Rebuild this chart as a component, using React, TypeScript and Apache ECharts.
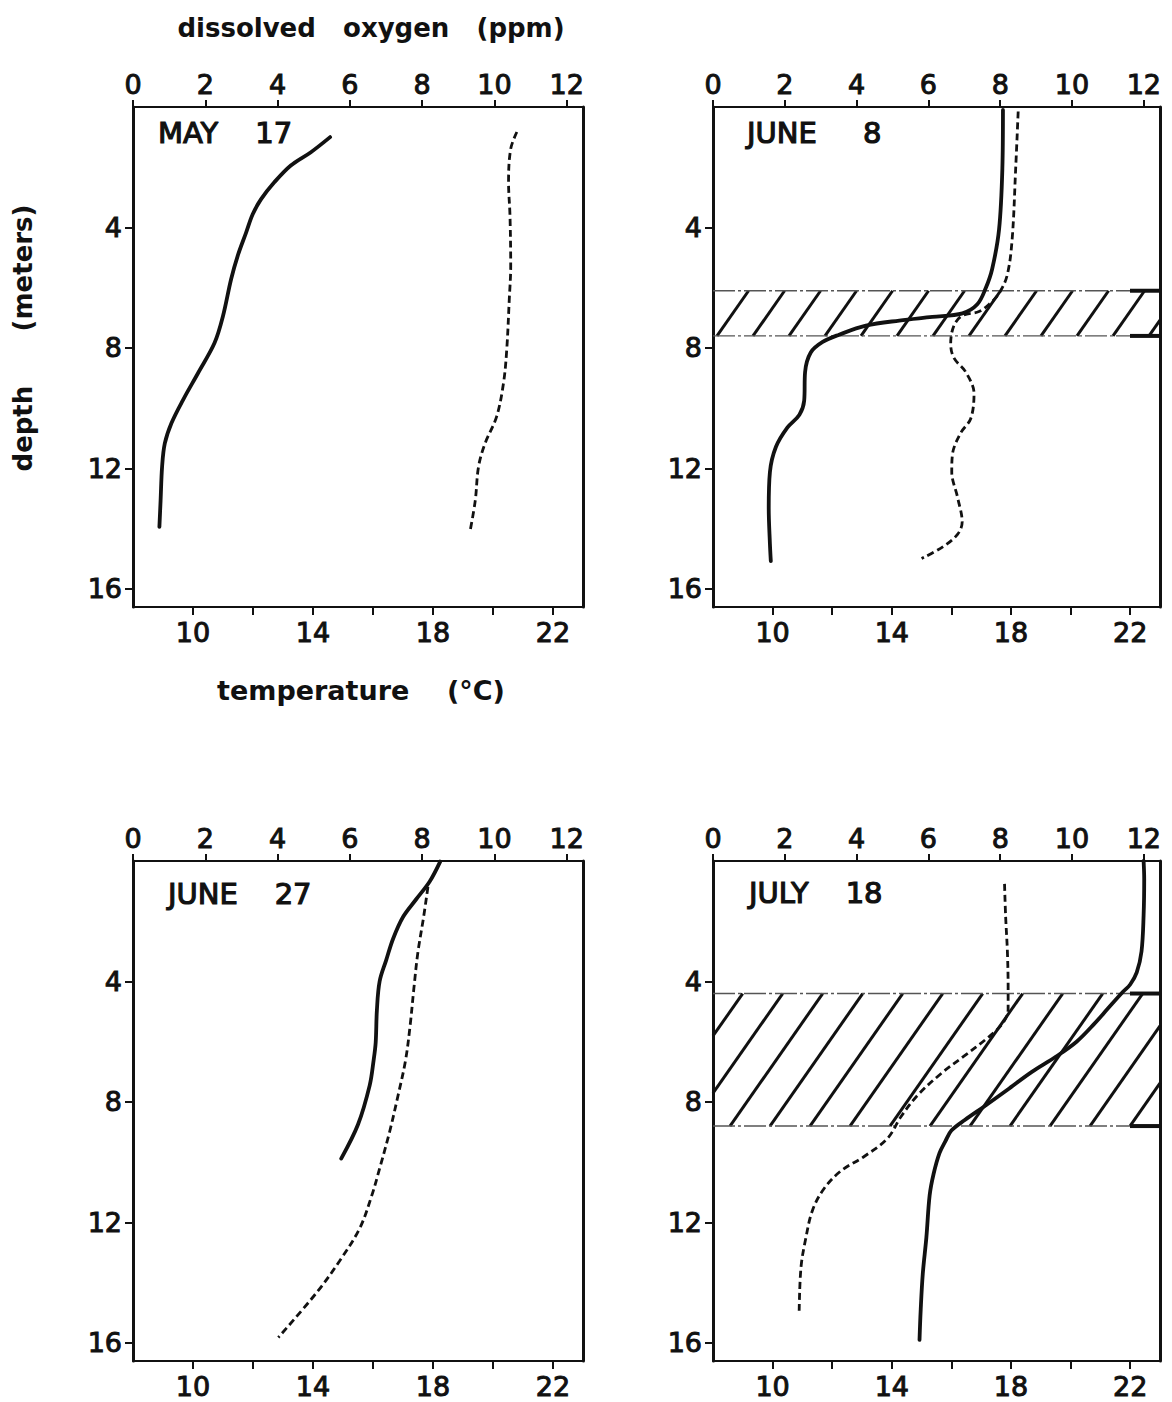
import React, { useEffect, useRef } from 'react';
import * as echarts from 'echarts';

// ---------- axis ticks ----------
const depthTicks = [4, 8, 12, 16];
const oxygenTicks = [0, 2, 4, 6, 8, 10, 12];
const tempTicks = [10, 12, 14, 16, 18, 20, 22];
const tempLabels = [10, 14, 18, 22];

const panelTitles = ['MAY    17', 'JUNE     8', 'JUNE    27', 'JULY    18'];

// ---------- MAY 17 ----------
const may17TempDepth = [1.0, 1.5, 1.94, 2.5, 3.06, 3.56, 4.17, 4.94, 5.72, 6.94, 7.83, 8.83, 9.72, 10.5, 11.17, 11.94, 13.06, 13.94];
const may17Temp = [14.57, 13.93, 13.26, 12.71, 12.27, 11.99, 11.77, 11.49, 11.27, 11.0, 10.72, 10.17, 9.67, 9.28, 9.06, 8.97, 8.92, 8.88];
const may17OxyDepth = [0.83, 1.39, 2.5, 3.61, 5.28, 6.39, 8.06, 9.17, 10.28, 11.17, 11.94, 13.06, 14.06];
const may17Oxy = [10.62, 10.45, 10.39, 10.43, 10.45, 10.41, 10.34, 10.25, 10.06, 9.74, 9.56, 9.47, 9.33];

// ---------- JUNE 8 ----------
const jun8TempDepth = [0.1, 2.05, 4.06, 5.37, 6.02, 6.55, 6.85, 6.97, 7.09, 7.26, 7.56, 7.8, 8.15, 8.8, 9.75, 10.22, 10.64, 11.29, 12.12, 13.3, 14.5, 15.08];
const jun8Temp = [17.73, 17.71, 17.6, 17.37, 17.15, 16.87, 16.37, 15.36, 14.25, 13.13, 12.23, 11.68, 11.28, 11.09, 11.06, 10.9, 10.5, 10.11, 9.91, 9.87, 9.91, 9.94];
const jun8OxyDepth = [0.15, 2.05, 4.42, 5.6, 6.2, 6.55, 6.79, 6.93, 7.26, 7.86, 8.33, 8.8, 9.51, 10.34, 10.82, 11.53, 12.12, 12.95, 13.78, 14.19, 14.61, 14.99];
const jun8Oxy = [8.5, 8.43, 8.33, 8.19, 7.96, 7.69, 7.41, 6.94, 6.71, 6.62, 6.71, 7.04, 7.27, 7.18, 6.9, 6.67, 6.65, 6.81, 6.94, 6.81, 6.39, 5.81];
const jun8Thermocline = [6.1, 7.6];

// ---------- JUNE 27 ----------
const jun27TempDepth = [0.02, 0.68, 1.27, 1.86, 2.58, 3.29, 4.0, 4.95, 6.02, 6.62, 7.45, 8.75, 9.88];
const jun27Temp = [18.24, 17.89, 17.44, 17.0, 16.67, 16.44, 16.22, 16.13, 16.09, 16.02, 15.89, 15.5, 14.94];
const jun27OxyDepth = [0.86, 1.86, 3.05, 4.24, 5.43, 6.62, 7.8, 8.99, 10.18, 11.13, 12.2, 13.27, 14.33, 15.82];
const jun27Oxy = [8.16, 8.04, 7.88, 7.77, 7.67, 7.54, 7.33, 7.1, 6.83, 6.6, 6.27, 5.72, 5.08, 4.02];

// ---------- JULY 18 ----------
const jul18TempDepth = [0.0, 0.6, 1.8, 3.0, 3.7, 4.1, 4.35, 4.9, 5.4, 6.0, 6.5, 7.0, 7.6, 8.15, 8.6, 8.95, 9.3, 9.7, 10.4, 11.1, 12.5, 13.7, 14.9, 15.9];
const jul18Temp = [22.45, 22.47, 22.45, 22.38, 22.22, 22.0, 21.75, 21.25, 20.8, 20.2, 19.5, 18.7, 17.87, 17.1, 16.45, 16.0, 15.8, 15.6, 15.4, 15.27, 15.16, 15.04, 14.97, 14.93];
const jul18OxyDepth = [0.76, 1.83, 3.02, 4.21, 4.93, 5.4, 5.88, 6.48, 7.07, 7.79, 8.5, 9.21, 9.81, 10.29, 10.88, 11.6, 12.55, 13.5, 14.93];
const jul18Oxy = [8.12, 8.15, 8.2, 8.22, 8.22, 8.06, 7.64, 6.99, 6.34, 5.69, 5.23, 4.86, 4.21, 3.56, 3.09, 2.77, 2.58, 2.45, 2.4];
const jul18Thermocline = [4.4, 8.8];

const panels = [
  { temp: may17Temp, tempDepth: may17TempDepth, oxy: may17Oxy, oxyDepth: may17OxyDepth, band: null as number[] | null },
  { temp: jun8Temp, tempDepth: jun8TempDepth, oxy: jun8Oxy, oxyDepth: jun8OxyDepth, band: jun8Thermocline },
  { temp: jun27Temp, tempDepth: jun27TempDepth, oxy: jun27Oxy, oxyDepth: jun27OxyDepth, band: null as number[] | null },
  { temp: jul18Temp, tempDepth: jul18TempDepth, oxy: jul18Oxy, oxyDepth: jul18OxyDepth, band: jul18Thermocline },
];

const gridBoxes = [
  { left: 133, top: 107, width: 450, height: 500 },
  { left: 713, top: 107, width: 447, height: 500 },
  { left: 133, top: 861, width: 450, height: 500 },
  { left: 713, top: 861, width: 447, height: 500 },
];
const hatchStyle = [
  null,
  { spacing: 36, phase: 4 },
  null,
  { spacing: 40, phase: 17 },
];

const INK = '#111';
const FONT = '"DejaVu Sans", sans-serif';

const zip = (xs: number[], ys: number[]) => xs.map((x, i) => [x, ys[i]]);

function buildOption() {
  const xAxis: any[] = [];
  const yAxis: any[] = [];
  const series: any[] = [];
  const labelStyle = {
    color: INK,
    fontFamily: FONT,
    fontSize: 27,
    lineHeight: 24,
    textBorderColor: INK,
    textBorderWidth: 1,
  };
  panels.forEach((p, i) => {
    xAxis.push({
      type: 'value', gridIndex: i, position: 'top', min: 0, max: 12.45,
      axisLine: { show: true, onZero: false, lineStyle: { color: INK, width: 2 } },
      axisTick: { show: true, length: 7, customValues: oxygenTicks, lineStyle: { color: INK, width: 2 } },
      axisLabel: { ...labelStyle, margin: 11, customValues: oxygenTicks },
      splitLine: { show: false },
    });
    xAxis.push({
      type: 'value', gridIndex: i, position: 'bottom', min: 8, max: 23,
      axisLine: { show: true, onZero: false, lineStyle: { color: INK, width: 2 } },
      axisTick: { show: true, length: 8, customValues: tempTicks, lineStyle: { color: INK, width: 2 } },
      axisLabel: { ...labelStyle, margin: 13, customValues: tempLabels },
      splitLine: { show: false },
    });
    yAxis.push({
      type: 'value', gridIndex: i, position: 'left', inverse: true, min: 0, max: 16.6,
      axisLine: { show: true, onZero: false, lineStyle: { color: INK, width: 3 } },
      axisTick: { show: true, length: 8, customValues: depthTicks, lineStyle: { color: INK, width: 2 } },
      axisLabel: { ...labelStyle, margin: 11, customValues: depthTicks },
      splitLine: { show: false },
    });
    yAxis.push({
      type: 'value', gridIndex: i, position: 'right', inverse: true, min: 0, max: 16.6,
      axisLine: { show: true, onZero: false, lineStyle: { color: INK, width: 3 } },
      axisTick: { show: false },
      axisLabel: { show: false },
      splitLine: { show: false },
    });

    if (p.band) {
      const hs = hatchStyle[i]!;
      series.push({
        type: 'custom',
        name: 'thermocline ' + i,
        xAxisIndex: 2 * i + 1,
        yAxisIndex: 2 * i,
        z: 1,
        silent: true,
        data: [p.band],
        renderItem: (params: any, api: any) => {
          const cs = params.coordSys;
          const L = cs.x;
          const R = cs.x + cs.width;
          const yTop = api.coord([10, api.value(0)])[1];
          const yBot = api.coord([10, api.value(1)])[1];
          const H = yBot - yTop;
          const k = 1.43;
          const run = H / k;
          const children: any[] = [];
          const startX = L + hs.phase - Math.ceil(run / hs.spacing + 1) * hs.spacing;
          for (let xb = startX; xb < R; xb += hs.spacing) {
            let x1 = xb, y1 = yBot, x2 = xb + run, y2 = yTop;
            if (x2 <= L) continue;
            if (x1 < L) { y1 = yBot - (L - xb) * k; x1 = L; }
            if (x2 > R) { y2 = yBot - (R - xb) * k; x2 = R; }
            if (x1 >= R) continue;
            children.push({
              type: 'line',
              shape: { x1, y1, x2, y2 },
              style: { stroke: INK, lineWidth: 3 },
            });
          }
          children.push({ type: 'line', shape: { x1: L, y1: yTop, x2: R, y2: yTop }, style: { stroke: '#555', lineWidth: 1.4, lineDash: [22, 3, 3, 3] } });
          children.push({ type: 'line', shape: { x1: L, y1: yBot, x2: R, y2: yBot }, style: { stroke: '#555', lineWidth: 1.4, lineDash: [22, 3, 3, 3] } });
          children.push({ type: 'line', shape: { x1: R - 30, y1: yTop, x2: R, y2: yTop }, style: { stroke: INK, lineWidth: 4 } });
          children.push({ type: 'line', shape: { x1: R - 30, y1: yBot, x2: R, y2: yBot }, style: { stroke: INK, lineWidth: 4 } });
          return { type: 'group', children };
        },
      });
    }

    series.push({
      type: 'line',
      name: 'temperature ' + i,
      xAxisIndex: 2 * i + 1,
      yAxisIndex: 2 * i,
      data: zip(p.temp, p.tempDepth),
      showSymbol: false,
      smooth: 0.35,
      z: 3,
      lineStyle: { color: INK, width: 3.8, cap: 'round' },
    });
    series.push({
      type: 'line',
      name: 'dissolved oxygen ' + i,
      xAxisIndex: 2 * i,
      yAxisIndex: 2 * i,
      data: zip(p.oxy, p.oxyDepth),
      showSymbol: false,
      smooth: 0.35,
      z: 3,
      lineStyle: { color: INK, width: 2.8, type: [7, 4] },
    });
  });

  const titleFont = 'normal 29px ' + FONT;
  const graphic: any[] = [
    { type: 'text', x: 371, y: 28, style: { text: 'dissolved   oxygen   (ppm)', font: 'bold 26px ' + FONT, fill: INK, align: 'center', verticalAlign: 'middle' } },
    { type: 'text', x: 361, y: 690, style: { text: 'temperature    (°C)', font: 'bold 27px ' + FONT, fill: INK, align: 'center', verticalAlign: 'middle' } },
    { type: 'text', x: 23, y: 338, rotation: Math.PI / 2, style: { text: 'depth      (meters)', font: 'bold 26px ' + FONT, fill: INK, align: 'center', verticalAlign: 'middle' } },
  ];
  const titlePos = [[158, 133], [747, 133], [168, 894], [749, 893]];
  panelTitles.forEach((t, i) => {
    graphic.push({
      type: 'text', x: titlePos[i][0], y: titlePos[i][1],
      style: { text: t, font: titleFont, fill: INK, stroke: INK, lineWidth: 1.2, align: 'left', verticalAlign: 'middle' },
    });
  });

  return {
    animation: false,
    backgroundColor: '#fff',
    grid: gridBoxes.map((g) => ({ ...g, containLabel: false, show: false })),
    xAxis,
    yAxis,
    series,
    graphic,
  };
}

export default function App() {
  const ref = useRef<HTMLDivElement>(null);
  useEffect(() => {
    document.body.style.margin = '0';
    const chart = echarts.init(ref.current!, undefined, { renderer: 'svg' });
    chart.setOption(buildOption() as any);
    return () => chart.dispose();
  }, []);
  return (
    <div
      ref={ref}
      style={{ position: 'absolute', left: 0, top: 0, width: 1172, height: 1402, background: '#fff' }}
    />
  );
}
